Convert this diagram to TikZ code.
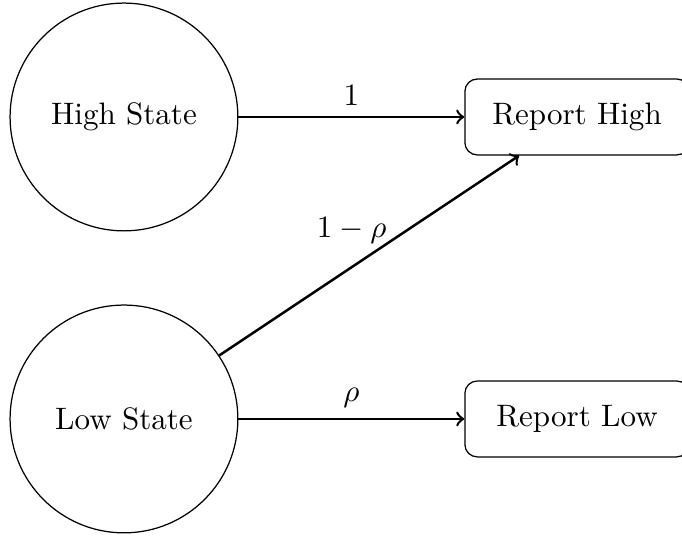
\documentclass[tikz,border=0pt]{standalone}
\begin{document}
\begin{tikzpicture}[state/.style={circle, draw, minimum size=2.58cm},
	report/.style={draw, rounded corners=4pt, minimum width=2.54cm, minimum height=0.86cm}]
			\clip (0,0) rectangle (7.724,-6.093);
			\node[state] (high) at (1.404,-1.325) {High State};
			\node[state] (low) at (1.404,-4.745) {Low State};
			\node[report] (rhigh) at (6.535,-1.325) {Report High};
			\node[report] (rlow) at (6.535,-4.745) {Report Low};
			
			\draw[->, thick] (high) -- node[above] {$1$} (rhigh);
			\draw[->, thick] (low) -- node[above, xshift=-0.2cm] {$1-\rho$} (rhigh);
			\draw[->, thick] (low) -- node[above] {$\rho$} (rlow);
			\end{tikzpicture}
\end{document}
